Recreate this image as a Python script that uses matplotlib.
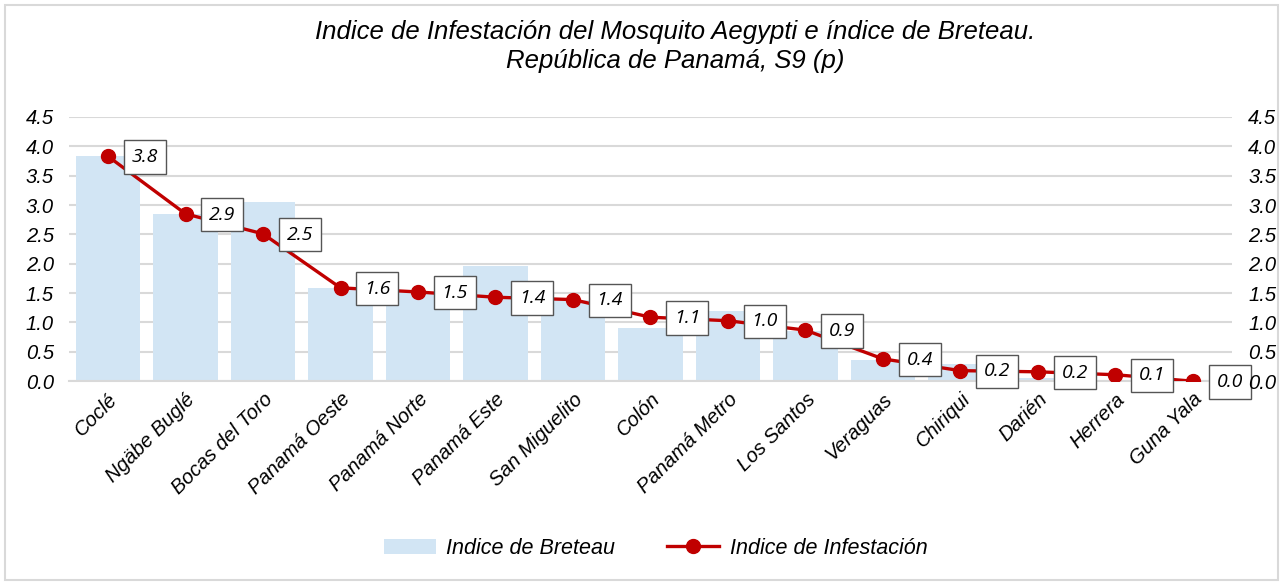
import matplotlib.pyplot as plt
import numpy as np
from matplotlib.lines import Line2D
from matplotlib.patches import Patch, Rectangle

regions = [
    "Coclé", "Ngäbe Buglé", "Bocas del Toro", "Panamá Oeste", "Panamá Norte",
    "Panamá Este", "San Miguelito", "Colón", "Panamá Metro", "Los Santos",
    "Veraguas", "Chiriqui", "Darién", "Herrera", "Guna Yala",
]
breteau = [3.83, 2.85, 3.06, 1.58, 1.52, 1.96, 1.38, 0.90, 1.19, 0.86,
           0.36, 0.30, 0.05, 0.02, 0.0]
infestacion = [3.83, 2.85, 2.51, 1.59, 1.52, 1.43, 1.39, 1.09, 1.03, 0.87,
               0.38, 0.18, 0.16, 0.11, 0.0]
yticks = [0.0, 0.5, 1.0, 1.5, 2.0, 2.5, 3.0, 3.5, 4.0, 4.5]

bar_color = "#D2E5F4"
line_color = "#C00000"
plt.rcParams["font.family"] = ["Liberation Sans", "DejaVu Sans"]

fig = plt.figure(figsize=(12.83, 5.82), dpi=100)
fig.patches.append(Rectangle((0.004, 0.004), 0.992, 0.988, transform=fig.transFigure,
                             fill=False, edgecolor="#D9D9D9", linewidth=1.5))
ax = fig.add_axes([0.054, 0.345, 0.906, 0.454])
x = np.arange(len(regions))

ax.bar(x, breteau, width=0.83, color=bar_color, zorder=2)
ax.plot(x, infestacion, color=line_color, linewidth=2.4, marker="o",
        markersize=10, zorder=3)

for xi, val in zip(x, infestacion):
    ax.annotate(f"{val:.1f}", (xi, val), xytext=(17, -0.5), textcoords="offset points",
                ha="left", va="center", fontsize=14, style="italic",
                family=["Open Sans", "DejaVu Sans"], annotation_clip=False, zorder=4,
                bbox=dict(boxstyle="square,pad=0.4", facecolor="white",
                          edgecolor="#555555", linewidth=1))

ax.set_xlim(-0.5, len(regions) - 0.5)
ax.set_ylim(0, 4.5)
ax.set_yticks(yticks)
ax.set_yticklabels([f"{t:.1f}" for t in yticks], fontsize=14.5, style="italic")
ax.grid(axis="y", color="#D9D9D9", linewidth=1.5, zorder=0)
ax.set_axisbelow(True)
for side in ["top", "right", "left"]:
    ax.spines[side].set_visible(False)
ax.spines["bottom"].set_color("#D9D9D9")
ax.spines["bottom"].set_linewidth(1.5)
ax.tick_params(axis="y", length=0, pad=11)
ax.tick_params(axis="x", length=0, pad=6)
ax.set_xticks(x)
ax.set_xticklabels(regions, rotation=45, ha="right", rotation_mode="anchor",
                   fontsize=14.5, style="italic")

ax2 = ax.twinx()
ax2.set_ylim(0, 4.5)
ax2.set_yticks(yticks)
ax2.set_yticklabels([f"{t:.1f}" for t in yticks], fontsize=14.5, style="italic")
ax2.tick_params(axis="y", length=0, pad=12)
for side in ["top", "right", "left", "bottom"]:
    ax2.spines[side].set_visible(False)

fig.text(0.526, 0.945, "Indice de Infestación del Mosquito Aegypti e índice de Breteau.",
         ha="center", va="center", fontsize=18.5, style="italic")
fig.text(0.526, 0.895, "República de Panamá, S9 (p)",
         ha="center", va="center", fontsize=18.5, style="italic")

handles = [
    Patch(facecolor=bar_color, label="Indice de Breteau"),
    Line2D([0], [0], color=line_color, linewidth=2.4, marker="o", markersize=10,
           label="Indice de Infestación"),
]
leg = fig.legend(handles=handles, loc="center", bbox_to_anchor=(0.511, 0.058), ncol=2,
                 frameon=False, handlelength=2.4, handletextpad=0.5, columnspacing=2.4,
                 prop={"size": 15.5, "style": "italic"})

fig.savefig("out.png", dpi=100)
